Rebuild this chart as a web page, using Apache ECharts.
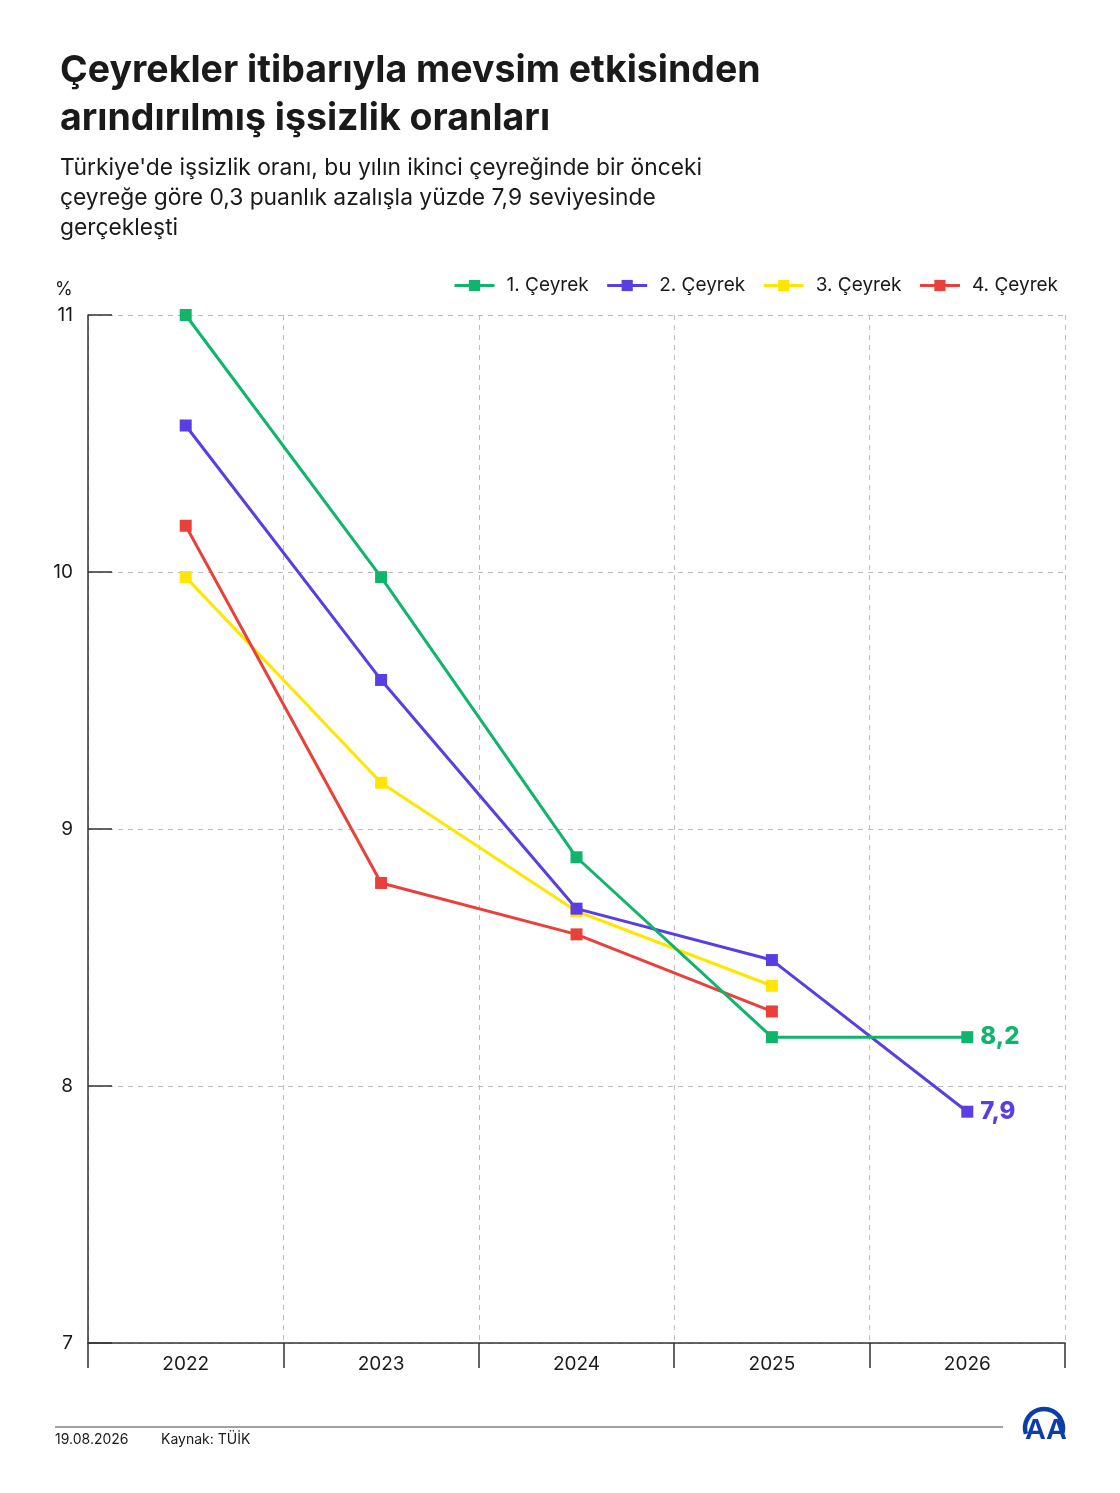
<!DOCTYPE html>
<html>
<head>
<meta charset="utf-8">
<script src="https://cdn.jsdelivr.net/npm/echarts@6/dist/echarts.min.js"></script>
<style>
html,body{margin:0;padding:0;background:#fff;}
#chart{width:1120px;height:1493px;}
</style>
</head>
<body>
<div id="chart"></div>
<script>
const years = ['2022', '2023', '2024', '2025', '2026'];
const ceyrek1 = [11.0, 9.98, 8.89, 8.19, 8.19];
const ceyrek2 = [10.57, 9.58, 8.69, 8.49, 7.9];
const ceyrek3 = [9.98, 9.18, 8.68, 8.39, null];
const ceyrek4 = [10.18, 8.79, 8.59, 8.29, null];
const seriesNames = ['1. Çeyrek', '2. Çeyrek', '3. Çeyrek', '4. Çeyrek'];
const yTicks = [7, 8, 9, 10, 11];

const titleText = 'Çeyrekler itibarıyla mevsim etkisinden\narındırılmış işsizlik oranları';
const subText = 'Türkiye\'de işsizlik oranı, bu yılın ikinci çeyreğinde bir önceki\nçeyreğe göre 0,3 puanlık azalışla yüzde 7,9 seviyesinde\ngerçekleşti';

const colors = ['#10b56c', '#5a3de3', '#ffe600', '#e9413a'];
const FONT = 'Inter, "Noto Sans", sans-serif';

const chart = echarts.init(document.getElementById('chart'), null, {renderer: 'canvas'});

function mkSeries(name, data, color, withEnd, z) {
  return {
    name: name,
    type: 'line',
    data: data,
    z: z,
    symbol: 'rect',
    symbolSize: 12,
    showAllSymbol: true,
    lineStyle: {color: color, width: 3},
    itemStyle: {color: color},
    emphasis: {disabled: true},
    connectNulls: false,
    endLabel: withEnd ? {
      show: true,
      distance: 13,
      formatter: p => Number(p.value).toFixed(1).replace('.', ','),
      color: color,
      fontFamily: FONT,
      fontWeight: 800,
      fontSize: 24
    } : {show: false}
  };
}

const option = {
  backgroundColor: '#ffffff',
  animation: false,
  textStyle: {fontFamily: FONT},
  title: [
    {
      text: titleText,
      left: 55,
      top: 42,
      textStyle: {fontFamily: FONT, fontSize: 37.5, fontWeight: 700, color: '#1a1a1a', lineHeight: 48}
    },
    {
      text: subText,
      left: 55,
      top: 148,
      textStyle: {fontFamily: FONT, fontSize: 22.8, fontWeight: 400, color: '#1a1a1a', lineHeight: 30}
    }
  ],
  legend: {
    right: 57,
    top: 271,
    itemWidth: 40,
    itemHeight: 14,
    itemGap: 17,
    lineStyle: {width: 3},
    textStyle: {fontFamily: FONT, fontSize: 19, color: '#1a1a1a', padding: [0, 0, 0, 7]},
    data: seriesNames
  },
  grid: {left: 88, right: 55, top: 315, bottom: 150, containLabel: false},
  xAxis: {
    type: 'category',
    data: years,
    boundaryGap: true,
    axisLine: {show: true, lineStyle: {color: '#333', width: 1.5}},
    axisTick: {show: true, length: 25, lineStyle: {color: '#333', width: 1.5}},
    axisLabel: {fontFamily: FONT, fontSize: 19, color: '#1a1a1a', margin: 12},
    splitLine: {show: true, lineStyle: {color: '#bdbdbd', type: [5, 5], width: 1}}
  },
  yAxis: {
    type: 'value',
    min: yTicks[0],
    max: yTicks[yTicks.length - 1],
    interval: 1,
    axisLine: {show: true, lineStyle: {color: '#333', width: 1.5}},
    axisTick: {show: true, inside: true, length: 24, lineStyle: {color: '#333', width: 1.5}},
    axisLabel: {fontFamily: FONT, fontSize: 19, color: '#1a1a1a', margin: 15},
    splitLine: {show: true, lineStyle: {color: '#bdbdbd', type: [5, 5], width: 1}}
  },
  series: [
    mkSeries(seriesNames[2], ceyrek3, colors[2], false, 2),
    mkSeries(seriesNames[3], ceyrek4, colors[3], false, 3),
    mkSeries(seriesNames[1], ceyrek2, colors[1], true, 4),
    mkSeries(seriesNames[0], ceyrek1, colors[0], true, 5)
  ],
  graphic: [
    {type: 'text', left: 55, top: 281, style: {text: '%', fontFamily: FONT, fontSize: 18, fill: '#1a1a1a'}},
    {type: 'line', shape: {x1: 55, y1: 1427, x2: 1003, y2: 1427}, style: {stroke: '#444', lineWidth: 1}},
    {type: 'text', left: 55, top: 1433, style: {text: '19.08.2026', fontFamily: FONT, fontSize: 14, fill: '#1a1a1a'}},
    {type: 'text', left: 161, top: 1433, style: {text: 'Kaynak: TÜİK', fontFamily: FONT, fontSize: 14, fill: '#1a1a1a'}},
    {type: 'arc', shape: {cx: 1044, cy: 1428, r: 19, startAngle: Math.PI * 0.9, endAngle: Math.PI * 2.1}, style: {stroke: '#0a3ea8', lineWidth: 4.5, fill: null}},
    {type: 'text', left: 1025, top: 1416, style: {text: 'AA', fontFamily: '"Liberation Sans", sans-serif', fontWeight: 700, fontSize: 29, fill: '#0a3ea8'}}
  ]
};

chart.setOption(option);
</script>
</body>
</html>
